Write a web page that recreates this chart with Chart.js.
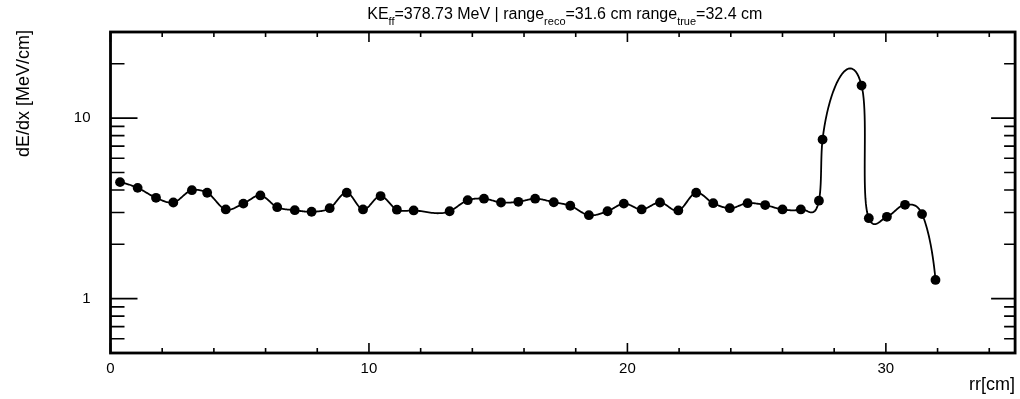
<!DOCTYPE html>
<html>
<head>
<meta charset="utf-8">
<title>dE/dx vs residual range</title>
<script src="https://cdn.jsdelivr.net/npm/chart.js@4.4.1/dist/chart.umd.min.js"></script>
<style>
  html, body { margin: 0; padding: 0; background: #fff; }
  #wrap { width: 1020px; height: 399px; }
</style>
</head>
<body>
<div id="wrap"><canvas id="c" width="1020" height="399"></canvas></div>
<script>
// Residual range of each hit [cm]
const rr = [0.37, 1.05, 1.76, 2.43, 3.15, 3.74, 4.46, 5.14, 5.80, 6.45,
            7.13, 7.78, 8.48, 9.14, 9.77, 10.45, 11.08, 11.73, 13.12, 13.82,
            14.45, 15.11, 15.78, 16.43, 17.15, 17.79, 18.51, 19.23, 19.86, 20.55,
            21.26, 21.97, 22.66, 23.32, 23.96, 24.65, 25.33, 26.00, 26.71, 27.41,
            27.55, 29.06, 29.34, 30.04, 30.74, 31.40, 31.92];
// Energy deposit per unit length of each hit [MeV/cm]
const dEdx = [4.42, 4.11, 3.62, 3.41, 3.99, 3.86, 3.12, 3.36, 3.73, 3.21,
              3.09, 3.03, 3.17, 3.86, 3.12, 3.70, 3.11, 3.08, 3.05, 3.51,
              3.58, 3.41, 3.44, 3.58, 3.42, 3.27, 2.90, 3.05, 3.36, 3.12,
              3.41, 3.08, 3.86, 3.38, 3.17, 3.38, 3.30, 3.12, 3.12, 3.49,
              7.61, 15.15, 2.79, 2.84, 3.31, 2.94, 1.27];

// Axis ranges and labelled ticks
const xRange = [0, 35];
const yRange = [0.5, 30];
const xTickLabels = [0, 10, 20, 30];
const yTickLabels = [1, 10];
const xMinorStep = 2;
const yMinorTicks = [0.6, 0.7, 0.8, 0.9, 2, 3, 4, 5, 6, 7, 8, 9, 20, 30];

// Title pieces: [text, isSubscript]
const titleParts = [
  ['KE', false], ['ff', true], ['=378.73 MeV | range', false], ['reco', true],
  ['=31.6 cm range', false], ['true', true], ['=32.4 cm', false]
];
const yTitle = 'dE/dx [MeV/cm]';
const xTitle = 'rr[cm]';

const FONT = "'Liberation Sans', Arial, Helvetica, sans-serif";

// Smooth curve through the markers: points are rescaled (x to 0..20, y to 0..1),
// each node gets a tangent from its two neighbouring chords, and every arc is a
// cubic Hermite piece whose tangent length equals the chord length.
function smoothPath(px, py) {
  const n = px.length;
  const minX = Math.min(...px), maxX = Math.max(...px);
  const minY = Math.min(...py), maxY = Math.max(...py);
  const kx = 20 / (maxX - minX || 1), ky = 1 / (maxY - minY || 1);
  const X = px.map(v => (v - minX) * kx), Y = py.map(v => (v - minY) * ky);
  const tx = new Array(n), ty = new Array(n);
  for (let k = 1; k < n - 1; k++) {
    const dx1 = X[k] - X[k - 1], dy1 = Y[k] - Y[k - 1];
    const dx2 = X[k + 1] - X[k], dy2 = Y[k + 1] - Y[k];
    const dk1 = dx1 * dx1 + dy1 * dy1, dk2 = dx2 * dx2 + dy2 * dy2;
    let cx = dx1 * dk2 + dx2 * dk1, cy = dy1 * dk2 + dy2 * dk1;
    const l = Math.hypot(cx, cy) || 1;
    tx[k] = cx / l; ty[k] = cy / l;
  }
  // open ends: mirror the neighbouring tangent about the end chord
  function mirror(k, j) {
    const dx = X[k] - X[j], dy = Y[k] - Y[j];
    const l = Math.hypot(dx, dy) || 1;
    const ux = dx / l, uy = dy / l;
    const d = tx[j] * ux + ty[j] * uy;
    tx[k] = 2 * d * ux - tx[j];
    ty[k] = 2 * d * uy - ty[j];
  }
  mirror(n - 1, n - 2);
  // first point: mirror of tangent at point 1 about chord 0->1
  {
    const dx = X[1] - X[0], dy = Y[1] - Y[0];
    const l = Math.hypot(dx, dy) || 1;
    const ux = dx / l, uy = dy / l;
    const d = tx[1] * ux + ty[1] * uy;
    tx[0] = 2 * d * ux - tx[1];
    ty[0] = 2 * d * uy - ty[1];
  }
  const out = [[px[0], py[0]]];
  for (let k = 0; k < n - 1; k++) {
    const r = Math.hypot(X[k + 1] - X[k], Y[k + 1] - Y[k]);
    const c1x = X[k] + r / 3 * tx[k], c1y = Y[k] + r / 3 * ty[k];
    const c2x = X[k + 1] - r / 3 * tx[k + 1], c2y = Y[k + 1] - r / 3 * ty[k + 1];
    const steps = 24;
    for (let s = 1; s <= steps; s++) {
      const t = s / steps, u = 1 - t;
      const bx = u * u * u * X[k] + 3 * u * u * t * c1x + 3 * u * t * t * c2x + t * t * t * X[k + 1];
      const by = u * u * u * Y[k] + 3 * u * u * t * c1y + 3 * u * t * t * c2y + t * t * t * Y[k + 1];
      out.push([bx / kx + minX, by / ky + minY]);
    }
  }
  return out;
}

const smoothCurve = {
  id: 'smoothCurve',
  beforeDatasetsDraw(chart) {
    const pts = chart.getDatasetMeta(0).data;
    const path = smoothPath(pts.map(p => p.x), pts.map(p => p.y));
    const ctx = chart.ctx, area = chart.chartArea;
    ctx.save();
    ctx.beginPath();
    ctx.rect(area.left, area.top, area.right - area.left, area.bottom - area.top);
    ctx.clip();
    ctx.beginPath();
    ctx.moveTo(path[0][0], path[0][1]);
    for (let i = 1; i < path.length; i++) ctx.lineTo(path[i][0], path[i][1]);
    ctx.lineWidth = 1.8;
    ctx.strokeStyle = '#000';
    ctx.lineJoin = 'round';
    ctx.stroke();
    ctx.restore();
  }
};

// Frame, inward tick marks on all four sides, titles
const frameAndText = {
  id: 'frameAndText',
  afterDraw(chart) {
    const ctx = chart.ctx, a = chart.chartArea;
    const xs = chart.scales.x, ys = chart.scales.y;
    ctx.save();
    ctx.strokeStyle = '#000';
    ctx.lineWidth = 1.6;
    ctx.beginPath();
    for (let v = xRange[0]; v <= xRange[1] + 1e-9; v += xMinorStep) {
      const major = xTickLabels.includes(v);
      const len = major ? 10 : 5;
      const x = xs.getPixelForValue(v);
      ctx.moveTo(x, a.bottom); ctx.lineTo(x, a.bottom - len);
      ctx.moveTo(x, a.top); ctx.lineTo(x, a.top + len);
    }
    const yAll = yTickLabels.map(v => [v, true]).concat(yMinorTicks.map(v => [v, false]));
    for (const [v, major] of yAll) {
      const y = ys.getPixelForValue(v);
      ctx.moveTo(a.left, y); ctx.lineTo(a.left + (major ? 27 : 14), y);
      ctx.moveTo(a.right, y); ctx.lineTo(a.right - (major ? 24 : 11), y);
    }
    ctx.stroke();
    ctx.lineWidth = 2.8;
    ctx.strokeRect(a.left, a.top, a.right - a.left, a.bottom - a.top);

    // main title with subscripts
    ctx.fillStyle = '#000';
    ctx.textBaseline = 'alphabetic';
    const mainFont = '16px ' + FONT, subFont = '11px ' + FONT;
    let total = 0;
    for (const [txt, sub] of titleParts) {
      ctx.font = sub ? subFont : mainFont;
      total += ctx.measureText(txt).width;
    }
    let x = (a.left + a.right) / 2 - total / 2 + 2;
    ctx.textAlign = 'left';
    for (const [txt, sub] of titleParts) {
      ctx.font = sub ? subFont : mainFont;
      ctx.fillText(txt, x, sub ? 25 : 19);
      x += ctx.measureText(txt).width;
    }

    // axis titles
    ctx.font = '18px ' + FONT;
    ctx.textAlign = 'right';
    ctx.fillText(xTitle, a.right, 390);
    ctx.translate(29, 30);
    ctx.rotate(-Math.PI / 2);
    ctx.fillText(yTitle, 0, 0);
    ctx.restore();
  }
};

new Chart(document.getElementById('c'), {
  type: 'scatter',
  data: {
    datasets: [{
      data: rr.map((x, i) => ({ x: x, y: dEdx[i] })),
      showLine: false,
      pointRadius: 4.9,
      pointHoverRadius: 4.9,
      pointBackgroundColor: '#000',
      pointBorderWidth: 0
    }]
  },
  options: {
    responsive: false,
    animation: false,
    devicePixelRatio: 1,
    layout: { padding: { top: 32, right: 4, left: 0, bottom: 0 } },
    plugins: { legend: { display: false }, tooltip: { enabled: false }, title: { display: false } },
    scales: {
      x: {
        type: 'linear',
        min: xRange[0], max: xRange[1],
        grid: { display: false, drawTicks: false },
        border: { display: false },
        ticks: {
          color: '#000', padding: 7, maxRotation: 0, autoSkip: false,
          font: { family: FONT, size: 15 },
          callback: v => String(v)
        },
        afterBuildTicks: s => { s.ticks = xTickLabels.map(v => ({ value: v })); },
        afterFit: s => { s.height = 46; }
      },
      y: {
        type: 'logarithmic',
        min: yRange[0], max: yRange[1],
        grid: { display: false, drawTicks: false },
        border: { display: false },
        ticks: {
          color: '#000', padding: 20, autoSkip: false,
          font: { family: FONT, size: 15 },
          callback: v => String(v)
        },
        afterBuildTicks: s => { s.ticks = yTickLabels.map(v => ({ value: v })); },
        afterFit: s => { s.width = 110.5; }
      }
    }
  },
  plugins: [smoothCurve, frameAndText]
});
</script>
</body>
</html>
